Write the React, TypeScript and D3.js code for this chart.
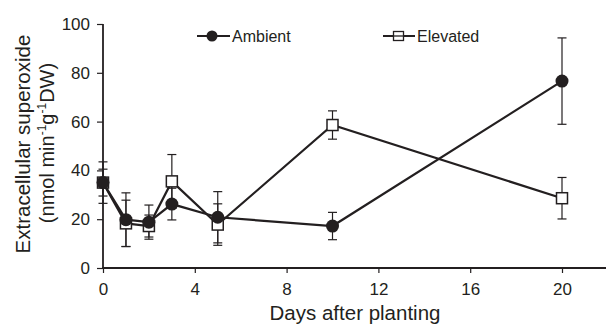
import React, { useRef, useEffect } from "react";
import * as d3 from "d3";

const days = [0, 1, 2, 3, 5, 10, 20];
const ambient = [35, 19.8, 18.8, 26.2, 20.8, 17.2, 76.6];
const ambientErr = [8.5, 11, 7, 6.5, 10.5, 5.6, 17.7];
const elevated = [35, 18.3, 17.2, 35.5, 17.8, 58.6, 28.6];
const elevatedErr = [5.5, 9.5, 4.5, 11, 8.5, 5.8, 8.5];
const xTicks = [0, 4, 8, 12, 16, 20];
const yTicks = [0, 20, 40, 60, 80, 100];

const INK = "#231f20";
const FONT = "'Liberation Sans', Arial, Helvetica, sans-serif";

const App: React.FC = () => {
  const svgRef = useRef<SVGSVGElement | null>(null);

  useEffect(() => {
    if (!svgRef.current) return;
    const svg = d3.select(svgRef.current);
    svg.selectAll("*").remove();

    const x = d3.scaleLinear().domain([0, 20]).range([103, 562]);
    const y = d3.scaleLinear().domain([0, 100]).range([268, 24]);

    // axes
    const yAxis = svg
      .append("g")
      .attr("transform", `translate(${x(0)},0)`)
      .call(d3.axisLeft(y).tickValues(yTicks).tickSize(6).tickPadding(7));
    yAxis.select(".domain").attr("stroke", INK).attr("stroke-width", 1.8).attr("d", `M0,${y(0)}V${y(100)}`);
    yAxis.selectAll(".tick line").attr("stroke", INK).attr("stroke-width", 1.2);
    yAxis
      .selectAll(".tick text")
      .attr("fill", INK)
      .attr("font-family", FONT)
      .attr("font-size", 17);

    const xAxis = svg
      .append("g")
      .attr("transform", `translate(0,${y(0)})`)
      .call(d3.axisBottom(x).tickValues(xTicks).tickSize(5).tickPadding(10));
    xAxis.select(".domain").attr("stroke", INK).attr("stroke-width", 2.2).attr("d", `M${x(0) - 1},0H606`);
    xAxis.selectAll(".tick line").attr("stroke", INK).attr("stroke-width", 1.2);
    xAxis
      .selectAll(".tick text")
      .attr("fill", INK)
      .attr("font-family", FONT)
      .attr("font-size", 17);

    // axis labels
    svg
      .append("text")
      .attr("x", 355)
      .attr("y", 320)
      .attr("text-anchor", "middle")
      .attr("font-family", FONT)
      .attr("font-size", 20.5)
      .attr("fill", INK)
      .text("Days after planting");

    svg
      .append("text")
      .attr("transform", "translate(30,144) rotate(-90)")
      .attr("text-anchor", "middle")
      .attr("font-family", FONT)
      .attr("font-size", 20.5)
      .attr("fill", INK)
      .text("Extracellular superoxide");

    const l2 = svg
      .append("text")
      .attr("transform", "translate(54,143) rotate(-90)")
      .attr("text-anchor", "middle")
      .attr("font-family", FONT)
      .attr("font-size", 20)
      .attr("fill", INK);
    l2.append("tspan").text("(nmol min");
    l2.append("tspan").attr("font-size", 12).attr("dy", -8).text("-1");
    l2.append("tspan").attr("dy", 8).text("g");
    l2.append("tspan").attr("font-size", 12).attr("dy", -8).text("-1");
    l2.append("tspan").attr("dy", 8).text("DW)");

    const line = d3
      .line<number>()
      .x((_, i) => x(days[i]))
      .y((d) => y(d));

    const series = [
      { vals: elevated, err: elevatedErr },
      { vals: ambient, err: ambientErr },
    ];

    // error bars
    series.forEach((s) => {
      const g = svg.append("g").attr("stroke", INK).attr("stroke-width", 1.2);
      s.vals.forEach((v, i) => {
        const cx = x(days[i]);
        const top = y(v + s.err[i]);
        const bot = y(v - s.err[i]);
        g.append("line").attr("x1", cx).attr("x2", cx).attr("y1", top).attr("y2", bot);
        g.append("line").attr("x1", cx - 4.5).attr("x2", cx + 4.5).attr("y1", top).attr("y2", top);
        g.append("line").attr("x1", cx - 4.5).attr("x2", cx + 4.5).attr("y1", bot).attr("y2", bot);
      });
    });

    // lines
    series.forEach((s) => {
      svg
        .append("path")
        .datum(s.vals)
        .attr("fill", "none")
        .attr("stroke", INK)
        .attr("stroke-width", 2.2)
        .attr("d", line);
    });

    // elevated markers (open squares)
    const sq = 11;
    svg
      .append("g")
      .selectAll("rect")
      .data(elevated)
      .join("rect")
      .attr("x", (_, i) => x(days[i]) - sq / 2)
      .attr("y", (d) => y(d) - sq / 2)
      .attr("width", sq)
      .attr("height", sq)
      .attr("fill", "white")
      .attr("stroke", INK)
      .attr("stroke-width", 1.5);

    // ambient markers (filled circles)
    svg
      .append("g")
      .selectAll("circle")
      .data(ambient)
      .join("circle")
      .attr("cx", (_, i) => x(days[i]))
      .attr("cy", (d) => y(d))
      .attr("r", 6.5)
      .attr("fill", INK);

    // legend
    const legY = 36;
    const lg = svg.append("g").attr("font-family", FONT).attr("font-size", 16).attr("fill", INK);
    lg.append("line").attr("x1", 197).attr("x2", 230).attr("y1", legY).attr("y2", legY).attr("stroke", INK).attr("stroke-width", 2);
    lg.append("circle").attr("cx", 212).attr("cy", legY).attr("r", 5.5).attr("fill", INK);
    lg.append("text").attr("x", 232).attr("y", legY + 6).text("Ambient");

    lg.append("line").attr("x1", 383).attr("x2", 415).attr("y1", legY).attr("y2", legY).attr("stroke", INK).attr("stroke-width", 2);
    lg.append("rect").attr("x", 393.5).attr("y", legY - 4.5).attr("width", 10).attr("height", 9).attr("fill", "white").attr("stroke", INK).attr("stroke-width", 1.3);
    lg.append("line").attr("x1", 393.5).attr("x2", 403.5).attr("y1", legY).attr("y2", legY).attr("stroke", INK).attr("stroke-width", 1.3);
    lg.append("text").attr("x", 417).attr("y", legY + 6).text("Elevated");
  }, []);

  return (
    <svg
      ref={svgRef}
      width={606}
      height={324}
      style={{ position: "absolute", left: 0, top: 0, background: "white" }}
    />
  );
};

export default App;
